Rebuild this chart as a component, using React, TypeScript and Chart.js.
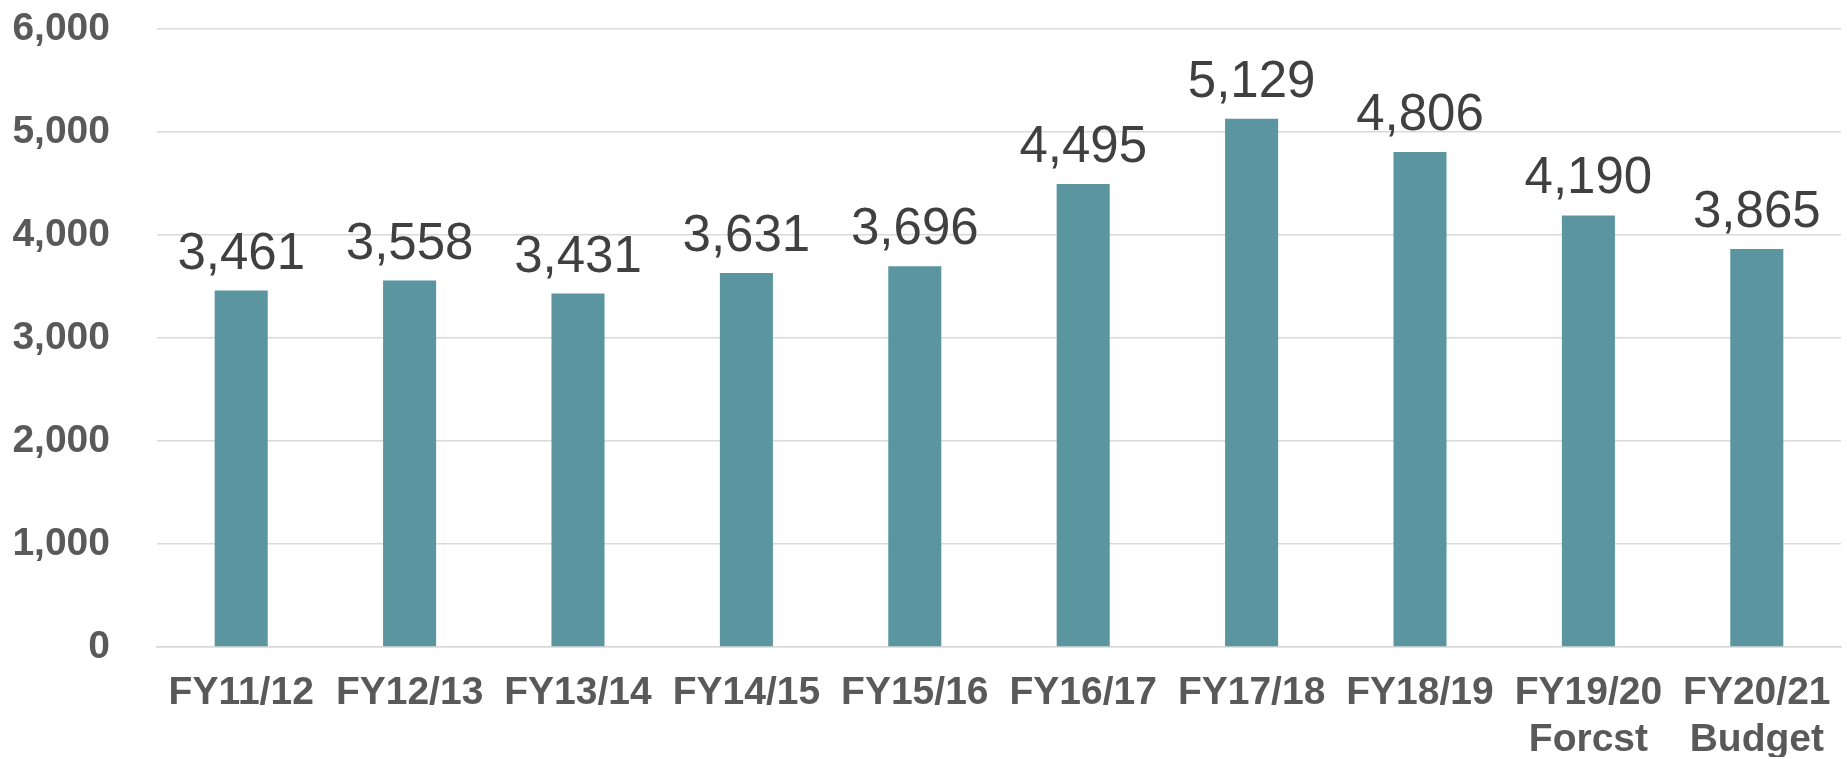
import React, { useEffect, useRef } from "react";
import { Chart, registerables } from "chart.js";

Chart.register(...registerables);

const categories: (string | string[])[] = [
  "FY11/12",
  "FY12/13",
  "FY13/14",
  "FY14/15",
  "FY15/16",
  "FY16/17",
  "FY17/18",
  "FY18/19",
  ["FY19/20", "Forcst"],
  ["FY20/21", "Budget"],
];
const values: number[] = [3461, 3558, 3431, 3631, 3696, 4495, 5129, 4806, 4190, 3865];
const yTicks: number[] = [0, 1000, 2000, 3000, 4000, 5000, 6000];

const FONT = "'Liberation Sans', Arial, sans-serif";

const valueLabels = {
  id: "valueLabels",
  afterDatasetsDraw(chart: any) {
    const ctx = chart.ctx;
    const meta = chart.getDatasetMeta(0);
    ctx.save();
    ctx.font = `400 51px ${FONT}`;
    ctx.fillStyle = "#404040";
    ctx.textAlign = "center";
    ctx.textBaseline = "alphabetic";
    meta.data.forEach((bar: any, i: number) => {
      const v = chart.data.datasets[0].data[i] as number;
      ctx.fillText(v.toLocaleString("en-US"), bar.x, bar.y - 22);
    });
    ctx.restore();
  },
};

export default function App() {
  const ref = useRef<HTMLCanvasElement | null>(null);
  useEffect(() => {
    document.body.style.margin = "0";
    if (!ref.current) return;
    const chart = new Chart(ref.current, {
      type: "bar",
      data: {
        labels: categories,
        datasets: [
          {
            data: values,
            backgroundColor: "#5B95A0",
            barPercentage: 0.315,
            categoryPercentage: 1,
          },
        ],
      },
      options: {
        animation: false,
        responsive: false,
        maintainAspectRatio: false,
        layout: { padding: { left: 13, right: 6, top: 29, bottom: 2 } },
        plugins: { legend: { display: false }, tooltip: { enabled: false } },
        scales: {
          x: {
            grid: { display: false, drawTicks: false },
            border: { display: true, color: "#d9d9d9", width: 1.5 },
            afterFit: (axis: any) => {
              axis.paddingLeft = 0;
              axis.paddingRight = 0;
              axis.height = 110;
            },
            ticks: {
              padding: 23,
              color: "#595959",
              maxRotation: 0,
              autoSkip: false,
              font: { family: FONT, size: 39, weight: "bold", lineHeight: 1.2 },
            },
          },
          y: {
            min: 0,
            max: 6000,
            afterBuildTicks: (axis: any) => {
              axis.ticks = yTicks.map((v) => ({ value: v }));
            },
            afterFit: (axis: any) => {
              axis.width = 144;
              axis.paddingTop = 0;
              axis.paddingBottom = 0;
            },
            grid: { color: "#d9d9d9", lineWidth: 1.5, drawTicks: false },
            border: { display: false },
            ticks: {
              padding: 47,
              color: "#595959",
              font: { family: FONT, size: 39, weight: "bold" },
              callback: (v: any) => Number(v).toLocaleString("en-US"),
            },
          },
        },
      },
      plugins: [valueLabels],
    });
    return () => chart.destroy();
  }, []);
  return (
    <div style={{ width: 1847, height: 759 }}>
      <canvas ref={ref} width={1847} height={759} style={{ display: "block" }} />
    </div>
  );
}
